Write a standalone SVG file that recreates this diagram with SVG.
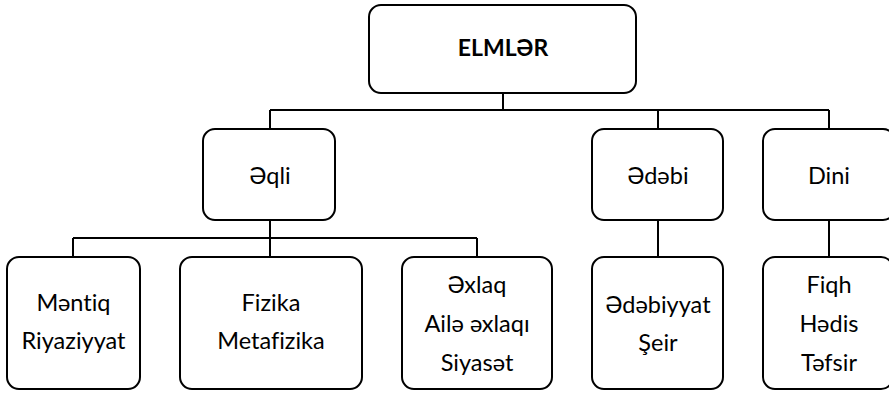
<svg xmlns="http://www.w3.org/2000/svg" width="889" height="393" viewBox="0 0 889 393">
<style>
.box{fill:#fff;stroke:#000;stroke-width:2}
.lnk{fill:none;stroke:#000;stroke-width:2}
text{font-family:Lato,"Noto Sans","Liberation Sans",sans-serif;font-size:23.5px;fill:#000;text-anchor:middle;font-variant-ligatures:none}
.b{font-weight:bold;font-size:23px}
</style>
<rect width="889" height="393" fill="#fff"/>
<g id="connectors">
<path class="lnk" d="M503 93V110M270 110H829M270 110V129M658 110V129M829 110V129"/>
<path class="lnk" d="M270 220V257M73 238H477M73 238V257M477 238V257"/>
<path class="lnk" d="M658 220V257M829 220V257"/>
</g>
<g id="elmler"><rect class="box" x="369" y="5" width="267" height="88" rx="12"/><text class="b" x="503" y="56">ELMLƏR</text></g>
<g id="aqli"><rect class="box" x="203" y="129" width="132" height="91" rx="12"/><text x="270" y="184">Əqli</text></g>
<g id="edebi"><rect class="box" x="592" y="129" width="131" height="91" rx="12"/><text x="658" y="184">Ədəbi</text></g>
<g id="dini"><rect class="box" x="763" y="129" width="132" height="91" rx="12"/><text x="829" y="184">Dini</text></g>
<g id="mentiq"><rect class="box" x="7" y="257" width="133" height="132" rx="12"/><text x="73.5" y="311">Məntiq</text><text x="73.5" y="349">Riyaziyyat</text></g>
<g id="fizika"><rect class="box" x="180" y="257" width="182" height="132" rx="12"/><text x="271" y="311">Fizika</text><text x="271" y="349">Metafizika</text></g>
<g id="exlaq"><rect class="box" x="402" y="257" width="150" height="132" rx="12"/><text x="477" y="293">Əxlaq</text><text x="477" y="332">Ailə əxlaqı</text><text x="477" y="371">Siyasət</text></g>
<g id="edebiyyat"><rect class="box" x="592" y="257" width="131" height="132" rx="12"/><text x="658" y="313">Ədəbiyyat</text><text x="658" y="351">Şeir</text></g>
<g id="fiqh"><rect class="box" x="763" y="257" width="130" height="132" rx="12"/><text x="829" y="293">Fiqh</text><text x="829" y="332">Hədis</text><text x="829" y="371">Təfsir</text></g>
</svg>
